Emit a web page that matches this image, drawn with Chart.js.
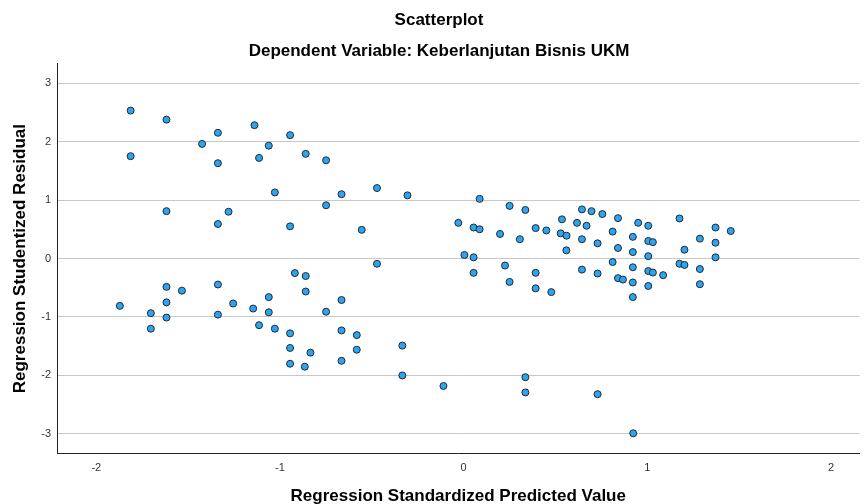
<!DOCTYPE html>
<html>
<head>
<meta charset="utf-8">
<script src="https://cdn.jsdelivr.net/npm/chart.js@4/dist/chart.umd.min.js"></script>
<style>
  html, body { margin: 0; padding: 0; background: #fff; }
  #wrap { width: 864px; height: 504px; }
</style>
</head>
<body>
<div id="wrap"><canvas id="chart"></canvas></div>
<script>
// predicted values (x) and studentized residuals (y)
const predicted = [
  -1.813, -1.618, -1.338, -1.139, -1.424, -1.061, -1.813, -1.338, -1.114, -1.028,
  -1.618, -1.28, -1.338, -0.945, -0.86, -0.749, -0.665, -0.472, -0.306, -0.749,
  -0.945, -0.555, -0.029, 0.004,
  -1.872, -1.703, -1.618, -1.534, -1.618, -1.618, -1.703, -1.338, -1.338, -1.255,
  -1.146, -1.061, -1.061, -1.114, -1.028, -0.472, -0.919, -0.86, -0.86, -0.665,
  -0.749, -0.945, -0.665, -0.582, -0.945, -0.834, -0.582, -0.945, -0.865, -0.665,
  -0.334, -0.334, -0.11, 0.336, 0.336, 0.729, 0.923,
  0.087, 0.25, 0.336, 0.054, 0.087, 0.198, 0.306, 0.392, 0.45, 0.535,
  0.528, 0.56, 0.559, 0.644, 0.696, 0.755, 0.617, 0.669, 0.644, 0.729,
  0.84, 0.811, 0.84, 0.921, 0.95, 0.921, 0.054, 0.054, 0.225, 0.25,
  0.392, 0.392, 0.477, 0.644, 0.729, 0.811, 0.84, 0.867, 0.921, 0.921,
  0.921, 1.005, 1.005, 1.03, 1.005, 1.005, 1.03, 1.086, 1.005, 1.175,
  1.202, 1.175, 1.202, 1.286, 1.286, 1.286, 1.371, 1.371, 1.371, 1.454
];
const residual = [
  2.53, 2.375, 2.15, 2.28, 1.96, 1.93, 1.75, 1.63, 1.72, 1.13,
  0.81, 0.80, 0.59, 2.11, 1.79, 1.68, 1.10, 1.205, 1.08, 0.91,
  0.55, 0.49, 0.61, 0.06,
  -0.81, -0.935, -0.485, -0.55, -0.75, -1.01, -1.20, -0.445, -0.96, -0.77,
  -0.856, -0.66, -0.92, -1.14, -1.20, -0.09, -0.25, -0.30, -0.565, -0.71,
  -0.91, -1.28, -1.23, -1.31, -1.53, -1.61, -1.56, -1.80, -1.85, -1.75,
  -1.49, -2.00, -2.18, -2.03, -2.29, -2.32, -2.99,
  1.02, 0.90, 0.83, 0.53, 0.50, 0.42, 0.33, 0.52, 0.48, 0.67,
  0.43, 0.39, 0.14, 0.84, 0.81, 0.76, 0.61, 0.56, 0.33, 0.26,
  0.69, 0.46, 0.18, 0.37, 0.61, 0.11, 0.02, -0.245, -0.12, -0.40,
  -0.245, -0.51, -0.575, -0.19, -0.257, -0.06, -0.336, -0.36, -0.15, -0.41,
  -0.66, 0.56, 0.30, 0.28, 0.04, -0.215, -0.24, -0.285, -0.47, 0.685,
  0.15, -0.09, -0.11, 0.34, -0.18, -0.44, 0.53, 0.27, 0.02, 0.47
];
const xTicks = [-2, -1, 0, 1, 2];
const yTicks = [-3, -2, -1, 0, 1, 2, 3];

const points = predicted.map((x, i) => ({ x: x, y: residual[i] }));

const FONT = "'Liberation Sans', Arial, sans-serif";

new Chart(document.getElementById('chart'), {
  type: 'scatter',
  data: {
    datasets: [{
      data: points,
      pointRadius: 3.5,
      pointHoverRadius: 3.5,
      pointBackgroundColor: '#2ea4f0',
      pointBorderColor: '#1e2a33',
      pointBorderWidth: 1
    }]
  },
  options: {
    responsive: true,
    maintainAspectRatio: false,
    animation: false,
    // left padding pushes the titles a bit right, like the original
    layout: { padding: { left: 14, right: 0, top: 0, bottom: 0 } },
    plugins: {
      legend: { display: false },
      tooltip: { enabled: false },
      title: {
        display: true,
        text: 'Scatterplot',
        color: '#000',
        font: { family: FONT, size: 17, weight: 'bold' },
        padding: { top: 10, bottom: 5 }
      },
      subtitle: {
        display: true,
        text: 'Dependent Variable: Keberlanjutan Bisnis UKM',
        color: '#000',
        font: { family: FONT, size: 17, weight: 'bold' },
        padding: { top: 6, bottom: 2 }
      }
    },
    scales: {
      x: {
        type: 'linear',
        min: -2.214,
        max: 2.155,
        afterBuildTicks: s => { s.ticks = xTicks.map(v => ({ value: v })); },
        afterFit: s => { s.height = 50.5; },
        grid: { display: false, drawTicks: false },
        border: { display: true, color: '#222', width: 1 },
        ticks: {
          padding: 8,
          color: '#333',
          font: { family: FONT, size: 11 }
        },
        title: {
          display: true,
          text: 'Regression Standardized Predicted Value',
          color: '#000',
          font: { family: FONT, size: 17, weight: 'bold' },
          padding: { top: 0, bottom: -3 }
        }
      },
      y: {
        type: 'linear',
        min: -3.335,
        max: 3.33,
        afterBuildTicks: s => { s.ticks = yTicks.map(v => ({ value: v })); },
        afterFit: s => { s.width = 43; },
        grid: { display: true, drawTicks: false, color: '#c8c8c8', lineWidth: 1 },
        border: { display: true, color: '#222', width: 1 },
        ticks: {
          padding: 6,
          color: '#333',
          font: { family: FONT, size: 11 }
        },
        title: {
          display: true,
          text: 'Regression Studentized Residual',
          color: '#000',
          font: { family: FONT, size: 17, weight: 'bold' },
          padding: { top: -4, bottom: 0 }
        }
      }
    }
  }
});
</script>
</body>
</html>
